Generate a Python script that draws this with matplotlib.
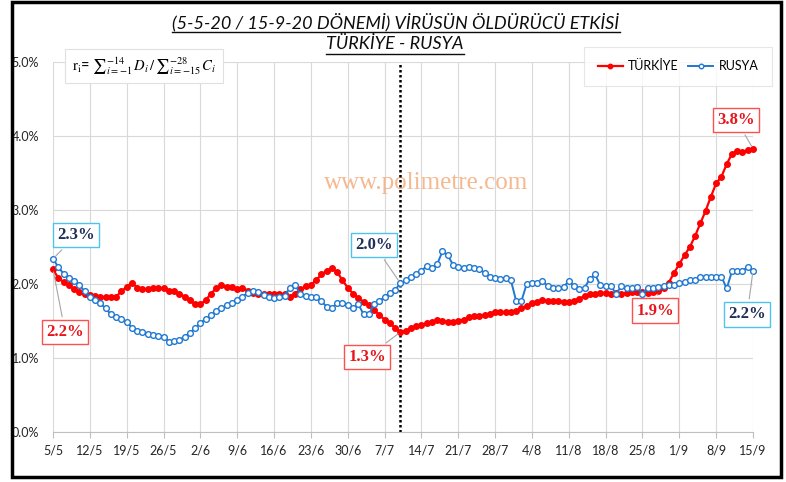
import matplotlib
matplotlib.use("Agg")
import matplotlib.pyplot as plt
from matplotlib.lines import Line2D
from matplotlib.patches import Rectangle
import numpy as np

# daily values 5/5/2020 .. 15/9/2020 (%)
tick_labels = ["5/5", "12/5", "19/5", "26/5", "2/6", "9/6", "16/6", "23/6", "30/6", "7/7",
               "14/7", "21/7", "28/7", "4/8", "11/8", "18/8", "25/8", "1/9", "8/9", "15/9"]

turkiye = [2.20, 2.08, 2.03, 1.98, 1.93, 1.89, 1.86, 1.85, 1.84, 1.83,
           1.82, 1.82, 1.83, 1.90, 1.96, 2.02, 1.95, 1.93, 1.93, 1.95,
           1.95, 1.94, 1.91, 1.90, 1.87, 1.83, 1.78, 1.73, 1.73, 1.78,
           1.87, 1.94, 1.98, 1.96, 1.96, 1.93, 1.95, 1.91, 1.88, 1.87,
           1.87, 1.87, 1.87, 1.87, 1.86, 1.83, 1.87, 1.93, 1.97, 1.99,
           2.05, 2.13, 2.18, 2.21, 2.16, 2.05, 1.95, 1.87, 1.81, 1.76,
           1.71, 1.65, 1.58, 1.52, 1.47, 1.41, 1.35, 1.37, 1.40, 1.43,
           1.45, 1.47, 1.48, 1.51, 1.50, 1.49, 1.48, 1.50, 1.52, 1.55,
           1.57, 1.57, 1.58, 1.60, 1.62, 1.62, 1.62, 1.62, 1.64, 1.67,
           1.70, 1.74, 1.76, 1.79, 1.77, 1.77, 1.77, 1.76, 1.76, 1.77,
           1.80, 1.84, 1.86, 1.87, 1.88, 1.88, 1.87, 1.88, 1.87, 1.88,
           1.89, 1.89, 1.89, 1.88, 1.89, 1.90, 1.94, 2.02, 2.15, 2.27,
           2.39, 2.50, 2.65, 2.82, 2.99, 3.18, 3.36, 3.45, 3.62, 3.76,
           3.80, 3.78, 3.81, 3.83]

rusya = [2.34, 2.23, 2.14, 2.08, 2.04, 1.99, 1.90, 1.82, 1.78, 1.74,
         1.67, 1.59, 1.55, 1.53, 1.49, 1.41, 1.36, 1.35, 1.32, 1.31,
         1.30, 1.29, 1.22, 1.23, 1.24, 1.29, 1.34, 1.40, 1.47, 1.53,
         1.58, 1.63, 1.67, 1.72, 1.74, 1.79, 1.83, 1.88, 1.90, 1.89,
         1.85, 1.83, 1.81, 1.83, 1.84, 1.95, 1.99, 1.86, 1.84, 1.83,
         1.82, 1.77, 1.69, 1.67, 1.75, 1.74, 1.72, 1.67, 1.73, 1.59,
         1.59, 1.73, 1.77, 1.82, 1.88, 1.92, 2.01, 2.05, 2.09, 2.14,
         2.18, 2.24, 2.21, 2.27, 2.44, 2.39, 2.26, 2.23, 2.21, 2.23,
         2.21, 2.20, 2.15, 2.10, 2.08, 2.07, 2.08, 2.05, 1.77, 1.77,
         2.00, 2.01, 2.01, 2.04, 1.97, 1.95, 1.94, 1.96, 2.04, 1.97,
         1.93, 1.95, 2.07, 2.13, 1.98, 1.97, 1.97, 1.87, 1.97, 1.94,
         1.95, 1.96, 1.87, 1.95, 1.95, 1.96, 1.97, 1.98, 1.99, 2.02,
         2.03, 2.05, 2.06, 2.10, 2.10, 2.09, 2.09, 2.10, 1.94, 2.17,
         2.17, 2.18, 2.23, 2.18]

cut_day = 66  # 10/7

RED = "#ff0000"
BLUE = "#1f78d1"
W, H = 786, 482
plt.rcParams["font.family"] = ["Lato", "DejaVu Sans"]

fig = plt.figure(figsize=(W / 100, H / 100), dpi=100)
ax = fig.add_axes([53 / W, 1 - 432 / H, 700 / W, 370 / H])

days = np.arange(len(turkiye))
ax.plot(days, turkiye, color=RED, lw=1.6, marker="o", ms=4.0, mfc=RED, mec=RED,
        label="TÜRKİYE", zorder=3, clip_on=False)
ax.plot(days, rusya, color=BLUE, lw=1.4, marker="o", ms=4.1, mfc="white", mec=BLUE,
        mew=1.0, label="RUSYA", zorder=4, clip_on=False)

ax.axvline(cut_day, color="black", ls=(0, (1, 1)), lw=1.8, zorder=2)

ax.set_xlim(0, len(turkiye) - 1)
ax.set_ylim(0, 5)
ax.set_xticks(np.arange(0, len(turkiye), 7))
ax.set_xticklabels(tick_labels)
ax.set_yticks(np.arange(0, 5.01, 1))
ax.set_yticklabels(["%.1f%%" % v for v in np.arange(0, 5.01, 1)])
ax.grid(color="#d9d9d9", lw=0.8)
ax.set_axisbelow(True)
for s in ["top", "right", "left"]:
    ax.spines[s].set_visible(False)
ax.spines["bottom"].set_color("#bfbfbf")
ax.tick_params(axis="x", length=4, color="#bfbfbf", pad=5, labelsize=9, labelcolor="#262626")
ax.tick_params(axis="y", length=0, pad=10, labelsize=9, labelcolor="#262626")

# value labels
red_box = dict(boxstyle="square,pad=0.25", fc="white", ec="#ff5050", lw=1.0)
blue_box = dict(boxstyle="square,pad=0.25", fc="white", ec="#4fc3f0", lw=1.0)
lead = dict(arrowstyle="-", color="#a6a6a6", lw=0.8)
labels = [
    (0, rusya[0], "2.3%", 4.4, 2.66, blue_box, "#1f2d5a"),
    (0, turkiye[0], "2.2%", 2.3, 1.35, red_box, "#e8141b"),
    (cut_day, rusya[cut_day], "2.0%", 61.0, 2.53, blue_box, "#1f2d5a"),
    (cut_day, turkiye[cut_day], "1.3%", 59.7, 1.01, red_box, "#e8141b"),
    (115, turkiye[115], "1.9%", 114.4, 1.64, red_box, "#e8141b"),
    (133, rusya[133], "2.2%", 131.9, 1.59, blue_box, "#1f2d5a"),
    (133, turkiye[133], "3.8%", 129.8, 4.22, red_box, "#e8141b"),
]
for x, y, txt, tx, ty, box, col in labels:
    ax.annotate(txt, xy=(x, y), xytext=(tx, ty), ha="center", va="center",
                fontsize=12, fontweight="bold", family="Liberation Serif", color=col,
                bbox=box, arrowprops=lead, zorder=6, annotation_clip=False)

# watermark
ax.text(426 / W, 1 - 183 / H, "www.polimetre.com", transform=fig.transFigure,
        ha="center", va="center", fontsize=18, family="Liberation Serif",
        color="#f4b183", alpha=0.9, zorder=1)

# formula box
fig.text(144 / W, 1 - 66 / H,
         r"$\mathrm{r_i}$= ${\sum}_{i=-1}^{-14}\,D_i\,/\,{\sum}_{i=-15}^{-28}\,C_i$",
         ha="center", va="center", fontsize=10.5, math_fontfamily="stix",
         bbox=dict(boxstyle="square,pad=0.45", fc="white", ec="#e0e0e0", lw=0.8))

# legend
leg = ax.legend(loc="center", bbox_to_anchor=(678 / W, 1 - 66.5 / H),
                bbox_transform=fig.transFigure, ncol=2, fontsize=9, frameon=True,
                fancybox=False, edgecolor="#e0e0e0", borderpad=1.1, markerscale=0.8,
                handlelength=2.0, columnspacing=0.8, handletextpad=0.4)
leg.get_frame().set_linewidth(0.8)

# titles with underline
t1 = fig.text(396 / W, 1 - 22 / H, "(5-5-20 / 15-9-20 DÖNEMİ) VİRÜSÜN ÖLDÜRÜCÜ ETKİSİ",
              ha="center", va="center", fontsize=13, style="italic", color="#0d0d0d")
t2 = fig.text(395 / W, 1 - 44 / H, "TÜRKİYE - RUSYA",
              ha="center", va="center", fontsize=13, style="italic", color="#0d0d0d")
fig.canvas.draw()
r = fig.canvas.get_renderer()
for t, uy in [(t1, 31.5), (t2, 53.5)]:
    bb = t.get_window_extent(r)
    fig.add_artist(Line2D([bb.x0 / W, bb.x1 / W], [1 - uy / H, 1 - uy / H],
                          transform=fig.transFigure, color="#0d0d0d", lw=1.0))

# outer frame
fig.add_artist(Rectangle((12 / W, 5 / H), 769 / W, 475 / H, transform=fig.transFigure,
                         fill=False, ec="black", lw=2.5))

fig.savefig("out.png", dpi=100)
